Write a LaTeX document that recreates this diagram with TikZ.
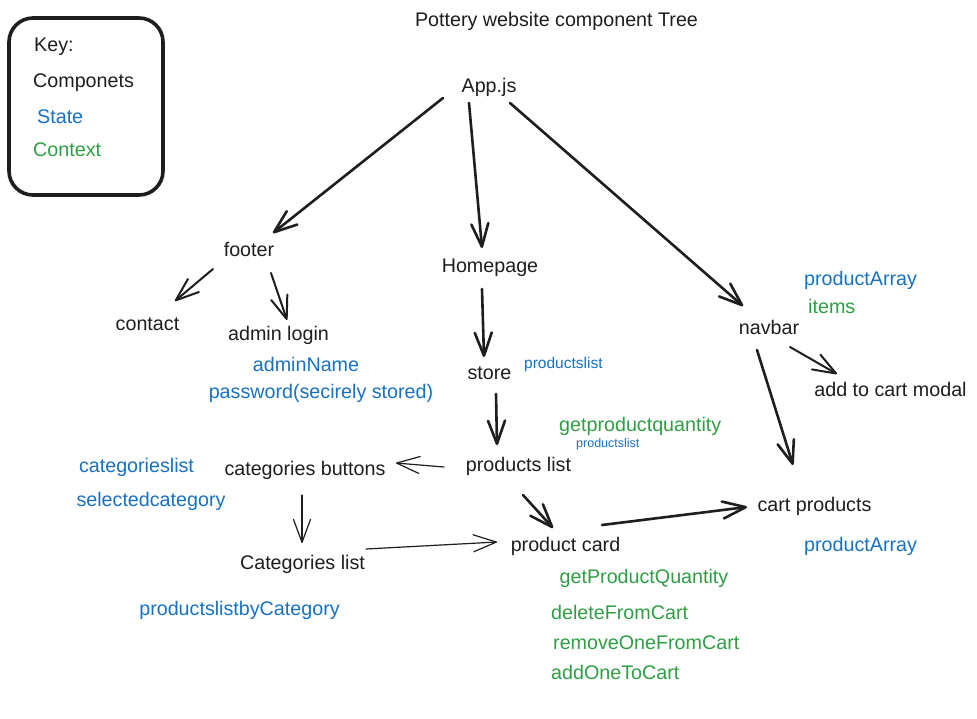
\documentclass[tikz,border=0pt]{standalone}
\usepackage{fontspec}
\setmainfont{Liberation Sans}
\usetikzlibrary{arrows.meta,calc}
\definecolor{inkblack}{HTML}{1E1E1E}
\definecolor{stateblue}{HTML}{1971C2}
\definecolor{ctxgreen}{HTML}{2F9E44}
\begin{document}
\begin{tikzpicture}[x=1pt,y=-1pt,
  lbl/.style={inner sep=0pt, anchor=base, font=\fontsize{19.7}{23}\selectfont, text=inkblack},
  lblw/.style={lbl, anchor=base west},
  statelbl/.style={lbl, text=stateblue},
  statelblw/.style={lblw, text=stateblue},
  ctxlbl/.style={lbl, text=ctxgreen},
  ctxlblw/.style={lblw, text=ctxgreen},
  conn/.style={draw=inkblack, line cap=round, line join=round, -{Straight Barb[length=23pt,width=17pt,round]}},
  heavy/.style={conn, line width=2.6pt},
  medium/.style={conn, line width=2pt},
  light/.style={conn, line width=1.2pt},
  keybox/.style={draw=inkblack, line width=3.6pt, rounded corners=24pt},
]
\useasboundingbox (0,0) rectangle (977,718);
\fill[white] (0,0) rectangle (977,718);

% key
\draw[keybox] (9,18) rectangle (163,195);
\node[lblw] (keyhead) at (34,51) {Key:};
\node[lblw] (keycomp) at (33,87) {Componets};
\node[statelblw] (keystate) at (37,123) {State};
\node[ctxlblw] (keyctx) at (33,156) {Context};

% title
\node[lbl] (title) at (556.5,26) {Pottery website component Tree};

% components
\node[lbl] (app) at (489,92) {App.js};
\node[lbl] (footer) at (249,256) {footer};
\node[lbl] (homepage) at (490,272) {Homepage};
\node[lbl] (navbar) at (769,334) {navbar};
\node[lbl] (contact) at (147.5,330) {contact};
\node[lbl] (adminlogin) at (278.5,340) {admin login};
\node[lbl] (store) at (489.5,379) {store};
\node[lbl] (plist) at (518.5,471) {products list};
\node[lbl] (catbuttons) at (305,475) {categories buttons};
\node[lbl] (catlist) at (302.5,569) {Categories list};
\node[lbl] (pcard) at (565.5,551) {product card};
\node[lbl] (cartprod) at (814.5,511) {cart products};
\node[lbl] (addcart) at (890.5,396) {add to cart modal};

% state / context labels
\node[statelblw] (navstate) at (804,285) {productArray};
\node[ctxlblw] (navctx) at (808,313) {items};
\node[statelbl] (adminname) at (306,371) {adminName};
\node[statelbl] (password) at (321,398) {password(secirely stored)};
\node[statelblw, font=\fontsize{15.5}{18}\selectfont] (storestate) at (524,368) {productslist};
\node[ctxlblw] (plistctx) at (559,431) {getproductquantity};
\node[statelblw, font=\fontsize{12.5}{15}\selectfont] (pliststate) at (576,447) {productslist};
\node[statelbl] (catstate) at (136.5,472) {categorieslist};
\node[statelbl] (selcat) at (151,506) {selectedcategory};
\node[statelbl] (catliststate) at (239.5,615) {productslistbyCategory};
\node[statelblw] (cartstate) at (804,551) {productArray};
\node[ctxlbl] (getqty) at (644,583) {getProductQuantity};
\node[ctxlblw] (delcart) at (551,619) {deleteFromCart};
\node[ctxlblw] (remcart) at (553,649) {removeOneFromCart};
\node[ctxlblw] (addone) at (551,679) {addOneToCart};

% connectors
\draw[heavy] ($(app.base)+(-46,6)$) -- ($(footer.base)+(24,-23)$);
\draw[heavy] ($(app.base)+(-20,11)$) -- ($(homepage.base)+(-8,-24)$);
\draw[heavy] ($(app.base)+(21,11)$) -- ($(navbar.base)+(-26,-28)$);
\draw[medium] ($(footer.base)+(-36,13)$) -- ($(contact.base)+(27.5,-29)$);
\draw[medium] ($(footer.base)+(22,17)$) -- ($(adminlogin.base)+(8.5,-20)$);
\draw[heavy] ($(homepage.base)+(-8,17)$) -- ($(store.base)+(-5.5,-22)$);
\draw[heavy] ($(store.base)+(6.5,15)$) -- ($(plist.base)+(-21.5,-26)$);
\draw[light] ($(plist.base)+(-74.5,-4)$) -- ($(catbuttons.base)+(91,-12)$);
\draw[light] ($(catbuttons.base)+(-3,20)$) -- ($(catlist.base)+(-0.5,-26)$);
\draw[light] ($(catlist.base)+(63.5,-20)$) -- ($(pcard.base)+(-68.5,-9)$);
\draw[heavy] ($(plist.base)+(4.5,24)$) -- ($(pcard.base)+(-12.5,-23)$);
\draw[heavy] ($(pcard.base)+(36.5,-26)$) -- ($(cartprod.base)+(-67.5,-4)$);
\draw[medium] ($(navbar.base)+(21,13)$) -- ($(addcart.base)+(-53.5,-22)$);
\draw[heavy] ($(navbar.base)+(-12,16)$) -- ($(cartprod.base)+(-21.5,-46)$);
\end{tikzpicture}
\end{document}
